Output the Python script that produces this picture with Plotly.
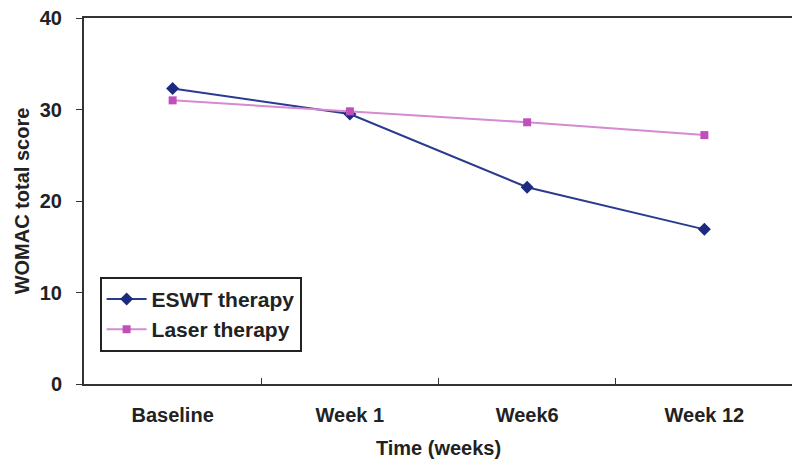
import plotly.graph_objects as go

time_points = ["Baseline", "Week 1", "Week6", "Week 12"]
eswt_scores = [32.3, 29.5, 21.5, 16.9]
laser_scores = [31.0, 29.8, 28.6, 27.2]
y_ticks = [0, 10, 20, 30, 40]

FONT = "Liberation Sans, Arial, sans-serif"
TEXT = "#222222"

fig = go.Figure()

fig.add_trace(go.Scatter(
    x=time_points,
    y=eswt_scores,
    name="ESWT therapy",
    mode="lines+markers",
    line=dict(color="#2a3a8e", width=2),
    marker=dict(symbol="diamond", size=10, color="#1c2a80"),
))
fig.add_trace(go.Scatter(
    x=time_points,
    y=laser_scores,
    name="Laser therapy",
    mode="lines+markers",
    line=dict(color="#d58ad2", width=2),
    marker=dict(symbol="square", size=8, color="#c04fbc"),
))

# page body keeps its default 8px margin, so margins are trimmed by that much
fig.update_layout(
    width=800,
    height=466,
    template="plotly_white",
    plot_bgcolor="white",
    paper_bgcolor="white",
    margin=dict(l=76, r=15, t=10, b=90),
    font=dict(family=FONT, color=TEXT, size=20),
    legend=dict(
        x=0.022, y=0.293, xanchor="left", yanchor="top",
        bordercolor="#222222", borderwidth=2, bgcolor="white",
        font=dict(size=21, family=FONT, color=TEXT, weight="bold"),
        tracegroupgap=0, itemwidth=40,
    ),
    showlegend=True,
)

fig.update_xaxes(
    range=[-0.5, 3.5], automargin=False,
    showgrid=False, zeroline=False,
    showline=True, linewidth=2, linecolor="#333333", mirror=True,
    ticks="inside", ticklen=6, tickcolor="#333333",
    tickson="boundaries", ticklabelstandoff=12,
    tickfont=dict(size=20, family=FONT, color=TEXT, weight="bold"),
    title=dict(text="<b>Time (weeks)</b>", font=dict(size=20), standoff=16),
)
fig.update_yaxes(
    range=[0, 40], tickvals=y_ticks, automargin=False,
    showgrid=False, zeroline=False,
    showline=True, linewidth=2, linecolor="#333333", mirror=True,
    ticks="outside", ticklen=6, tickcolor="#333333", ticklabelstandoff=10,
    ticklabeloverflow="allow",
    tickfont=dict(size=20, family=FONT, color=TEXT, weight="bold"),
    title=dict(text="<b>WOMAC total score</b>", font=dict(size=20), standoff=5),
)

fig.write_html("out.html")
